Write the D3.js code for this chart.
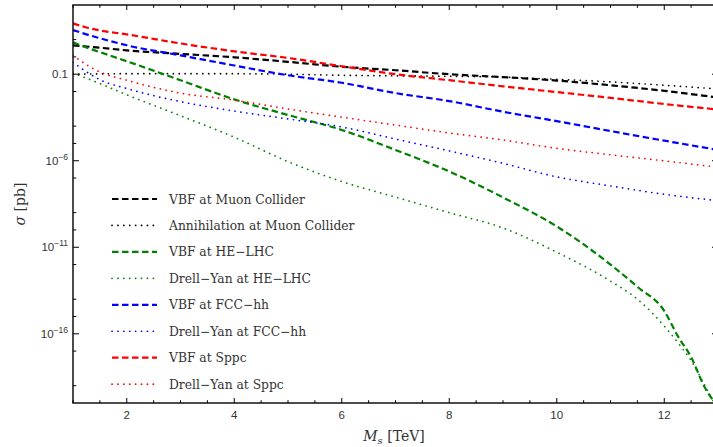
<!DOCTYPE html>
<html>
<head>
<meta charset="utf-8">
<script src="https://cdn.jsdelivr.net/npm/d3@7"></script>
<style>
body{margin:0;background:#fff;overflow:hidden}
</style>
</head>
<body>
<div id="chart"></div>
<script>
// sigma in pb
const massGrid = [1, 1.25, 1.5, 2, 3, 4, 5, 6, 7, 8, 9, 10, 11, 12, 13];
const massHe = [1, 1.25, 1.5, 2, 3, 4, 5, 6, 7, 8, 9, 10, 11, 11.5, 12, 12.25, 12.5, 12.75, 13];

const vbfMuon = [4.7, 4.0, 3.4, 2.4, 1.5, 0.95, 0.52, 0.27, 0.17, 0.10, 0.068, 0.043, 0.023, 0.011, 0.0045];
const annMuon = [0.10, 0.102, 0.105, 0.107, 0.107, 0.107, 0.10, 0.087, 0.081, 0.076, 0.068, 0.051, 0.036, 0.023, 0.014];
const vbfHe = [6.9, 3.5, 1.9, 0.56, 0.045, 0.0035, 4.4e-4, 6.0e-5, 4.2e-6, 2.4e-7, 7.6e-9, 1.6e-10, 1.0e-12, 5.2e-14, 2.1e-15, 7.6e-17, 4.5e-18, 8.3e-20, 6.3e-21];
const dyHe = [0.115, 0.059, 0.029, 0.0065, 4.0e-4, 2.3e-5, 8.9e-7, 6.3e-8, 7.9e-9, 1.0e-9, 1.3e-10, 5.2e-12, 1.1e-13, 1.0e-14, 2.8e-16, 3.2e-17, 2.8e-18, 1.1e-19, 4.0e-21];
const vbfFcc = [36, 20, 12, 4.7, 1.23, 0.32, 0.087, 0.032, 0.0081, 0.0028, 6.8e-4, 1.95e-4, 5.2e-5, 1.45e-5, 4.2e-6];
const dyFcc = [0.49, 0.138, 0.048, 0.015, 2.6e-3, 7.4e-4, 2.6e-4, 8.9e-5, 1.8e-5, 3.7e-6, 7.1e-7, 1.17e-7, 3.5e-8, 1.15e-8, 4.9e-9];
const vbfSppc = [87, 50, 34, 20, 6.0, 2.1, 0.87, 0.29, 0.10, 0.045, 0.020, 0.0093, 0.0043, 0.0019, 0.00091];
const dySppc = [1.23, 0.355, 0.135, 0.045, 8.1e-3, 3.2e-3, 9.8e-4, 3.3e-4, 1.15e-4, 4.0e-5, 1.58e-5, 5.2e-6, 2.2e-6, 9.8e-7, 4.2e-7];

const legendLabels = ["VBF at Muon Collider", "Annihilation at Muon Collider", "VBF at HE\u2212LHC", "Drell\u2212Yan at HE\u2212LHC",
  "VBF at FCC\u2212hh", "Drell\u2212Yan at FCC\u2212hh", "VBF at Sppc", "Drell\u2212Yan at Sppc"];

const xMajor = [2, 4, 6, 8, 10, 12];
const yMajorExp = [-1, -6, -11, -16];
const yMinorExp = [1, 0, -2, -4, -5, -7, -9, -10, -12, -14, -15, -17, -19];

const series = [
  {x: massGrid, y: vbfMuon, color: "#000000", dash: true},
  {x: massGrid, y: annMuon, color: "#000000", dash: false},
  {x: massHe, y: vbfHe, color: "#008000", dash: true},
  {x: massHe, y: dyHe, color: "#008000", dash: false},
  {x: massGrid, y: vbfFcc, color: "#0000ff", dash: true},
  {x: massGrid, y: dyFcc, color: "#0000ff", dash: false},
  {x: massGrid, y: vbfSppc, color: "#ff0000", dash: true},
  {x: massGrid, y: dySppc, color: "#ff0000", dash: false}
];

const width = 713, height = 447;
const plot = {left: 73, right: 718, top: 5, bottom: 403};

const svg = d3.select("#chart").append("svg")
  .attr("width", width)
  .attr("height", height);

const xScale = d3.scaleLinear().domain([1, 13]).range([plot.left, plot.right]);
const yScale = d3.scaleLog().domain([1e-20, 1e3]).range([plot.bottom, plot.top]);

svg.append("clipPath").attr("id", "clip")
  .append("rect")
  .attr("x", plot.left).attr("y", plot.top)
  .attr("width", plot.right - plot.left).attr("height", plot.bottom - plot.top);

function styleLine(sel, s) {
  sel.attr("fill", "none").attr("stroke", s.color);
  if (s.dash) {
    sel.attr("stroke-width", 2.2).attr("stroke-dasharray", "6.5,3.5");
  } else {
    sel.attr("stroke-width", 1.7).attr("stroke-dasharray", "0.1,5.8").attr("stroke-linecap", "round");
  }
}

const line = d3.line()
  .x(d => xScale(d[0]))
  .y(d => yScale(d[1]))
  .curve(d3.curveMonotoneX);

const curves = svg.append("g").attr("clip-path", "url(#clip)");
series.forEach(function(s) {
  const pts = s.x.map((m, i) => [m, s.y[i]]);
  curves.append("path").datum(pts).attr("d", line).call(styleLine, s);
});

// frame + ticks (ticks inside on all four sides)
const frame = svg.append("g").attr("stroke", "#000").attr("fill", "none");
frame.append("rect")
  .attr("x", plot.left).attr("y", plot.top)
  .attr("width", plot.right - plot.left).attr("height", plot.bottom - plot.top)
  .attr("stroke-width", 1.4);

const xMinor = d3.range(1, 13.01, 0.5).filter(v => xMajor.indexOf(v) < 0);
function xTick(v, len) {
  frame.append("line").attr("x1", xScale(v)).attr("x2", xScale(v))
    .attr("y1", plot.bottom).attr("y2", plot.bottom - len).attr("stroke-width", 1);
  frame.append("line").attr("x1", xScale(v)).attr("x2", xScale(v))
    .attr("y1", plot.top).attr("y2", plot.top + len).attr("stroke-width", 1);
}
xMajor.forEach(v => xTick(v, 5));
xMinor.forEach(v => xTick(v, 2.8));

function yTick(e, len) {
  const y = yScale(Math.pow(10, e));
  frame.append("line").attr("x1", plot.left).attr("x2", plot.left + len)
    .attr("y1", y).attr("y2", y).attr("stroke-width", 1);
  frame.append("line").attr("x1", plot.right).attr("x2", plot.right - len)
    .attr("y1", y).attr("y2", y).attr("stroke-width", 1);
}
yMajorExp.forEach(e => yTick(e, 6));
yMinorExp.forEach(e => yTick(e, 3.2));

// tick labels
const tickFont = "'Liberation Sans', Arial, sans-serif";
svg.append("g").selectAll("text").data(xMajor).join("text")
  .attr("x", d => xScale(d)).attr("y", 419)
  .attr("text-anchor", "middle")
  .attr("font-family", tickFont).attr("font-size", 11.5).attr("fill", "#333")
  .text(d => d);

const yLab = svg.append("g").attr("font-family", tickFont).attr("fill", "#333").attr("text-anchor", "end");
yMajorExp.forEach(function(e) {
  const y = yScale(Math.pow(10, e)) + 4;
  const t = yLab.append("text").attr("x", plot.left - 5).attr("y", y).attr("font-size", 11.5);
  if (e === -1) {
    t.text("0.1");
  } else {
    t.append("tspan").text("10");
    t.append("tspan").attr("font-size", 8.5).attr("dy", -5).text("\u2212" + (-e));
  }
});

// axis labels
const labFont = "'DejaVu Serif', serif";
svg.append("text")
  .attr("x", 394).attr("y", 441)
  .attr("text-anchor", "middle")
  .attr("font-family", labFont).attr("font-size", 14).attr("fill", "#333")
  .call(t => {
    t.append("tspan").attr("font-style", "italic").text("M");
    t.append("tspan").attr("font-style", "italic").attr("font-size", 10).attr("dy", 2.5).text("s");
    t.append("tspan").attr("dy", -2.5).text(" [TeV]");
  });

svg.append("text")
  .attr("transform", "translate(25,204) rotate(-90)")
  .attr("text-anchor", "middle")
  .attr("font-family", labFont).attr("font-size", 14).attr("fill", "#333")
  .call(t => {
    t.append("tspan").attr("font-style", "italic").text("\u03c3");
    t.append("tspan").text(" [pb]");
  });

// legend
const legend = svg.append("g");
series.forEach(function(s, i) {
  const y = 199 + i * 26.45;
  legend.append("line")
    .attr("x1", 112).attr("x2", 157).attr("y1", y).attr("y2", y)
    .call(styleLine, s);
  legend.append("text")
    .attr("x", 169).attr("y", y + 4.5)
    .attr("font-family", labFont).attr("font-size", 12.3).attr("fill", "#333")
    .text(legendLabels[i]);
});
</script>
</body>
</html>
